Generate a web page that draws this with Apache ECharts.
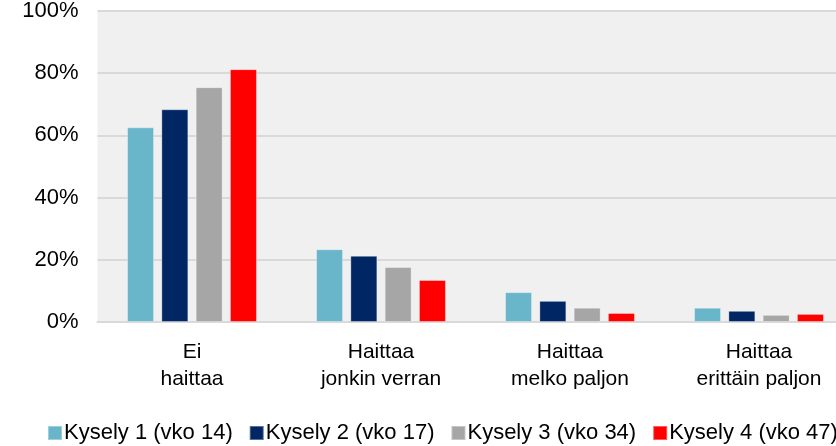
<!DOCTYPE html>
<html><head><meta charset="utf-8">
<script src="https://cdn.jsdelivr.net/npm/echarts@6/dist/echarts.min.js"></script>
<style>html,body{margin:0;padding:0;background:#fff;overflow:hidden}#c{width:836px;height:446px}</style>
</head><body><div id="c"></div>
<script>
const categories = ["Ei\nhaittaa", "Haittaa\njonkin verran", "Haittaa\nmelko paljon", "Haittaa\nerittäin paljon"];
const seriesNames = ["Kysely 1 (vko 14)", "Kysely 2 (vko 17)", "Kysely 3 (vko 34)", "Kysely 4 (vko 47)"];
const kysely1 = [62.6, 23.4, 9.6, 4.6];
const kysely2 = [68.4, 21.3, 6.8, 3.6];
const kysely3 = [75.5, 17.7, 4.6, 2.3];
const kysely4 = [81.3, 13.5, 2.9, 2.6];
const yTicks = [0, 20, 40, 60, 80, 100];

const colors = ["#69B5C9", "#002663", "#A6A6A6", "#FF0000"];
const FONT = "Liberation Sans";
const data = [kysely1, kysely2, kysely3, kysely4];

const chart = echarts.init(document.getElementById('c'), null, {renderer: 'canvas'});
chart.setOption({
  animation: false,
  textStyle: {fontFamily: FONT, color: '#000'},
  grid: {left: 97.5, width: 756, top: 11, height: 311, show: true, backgroundColor: '#F0F0F0', borderWidth: 0,
         containLabel: false, outerBoundsMode: 'none'},
  legend: {
    data: seriesNames,
    left: 47, top: 422, width: 830, padding: 0,
    icon: 'rect', itemWidth: 14, itemHeight: 14, itemGap: 16,
    textStyle: {fontFamily: FONT, fontSize: 22, color: '#000', padding: [0, 0, 0, -3]}
  },
  xAxis: {
    type: 'category', data: categories,
    axisTick: {show: false},
    axisLine: {show: true, lineStyle: {color: '#D9D9D9', width: 2}},
    axisLabel: {fontFamily: FONT, fontSize: 21, color: '#000', lineHeight: 27, margin: 17}
  },
  yAxis: {
    type: 'value', min: yTicks[0], max: yTicks[yTicks.length - 1], interval: 20,
    axisLine: {show: false}, axisTick: {show: false},
    splitLine: {lineStyle: {color: '#D9D9D9', width: 2}},
    axisLabel: {fontFamily: FONT, fontSize: 22, color: '#000', margin: 19, formatter: v => v + '%'}
  },
  series: seriesNames.map((n, i) => ({
    name: n, type: 'bar', data: data[i],
    barWidth: 27, barGap: '27%',
    itemStyle: {color: colors[i], borderColor: 'rgba(255,255,255,0.35)', borderWidth: 1}
  }))
});
</script></body></html>
